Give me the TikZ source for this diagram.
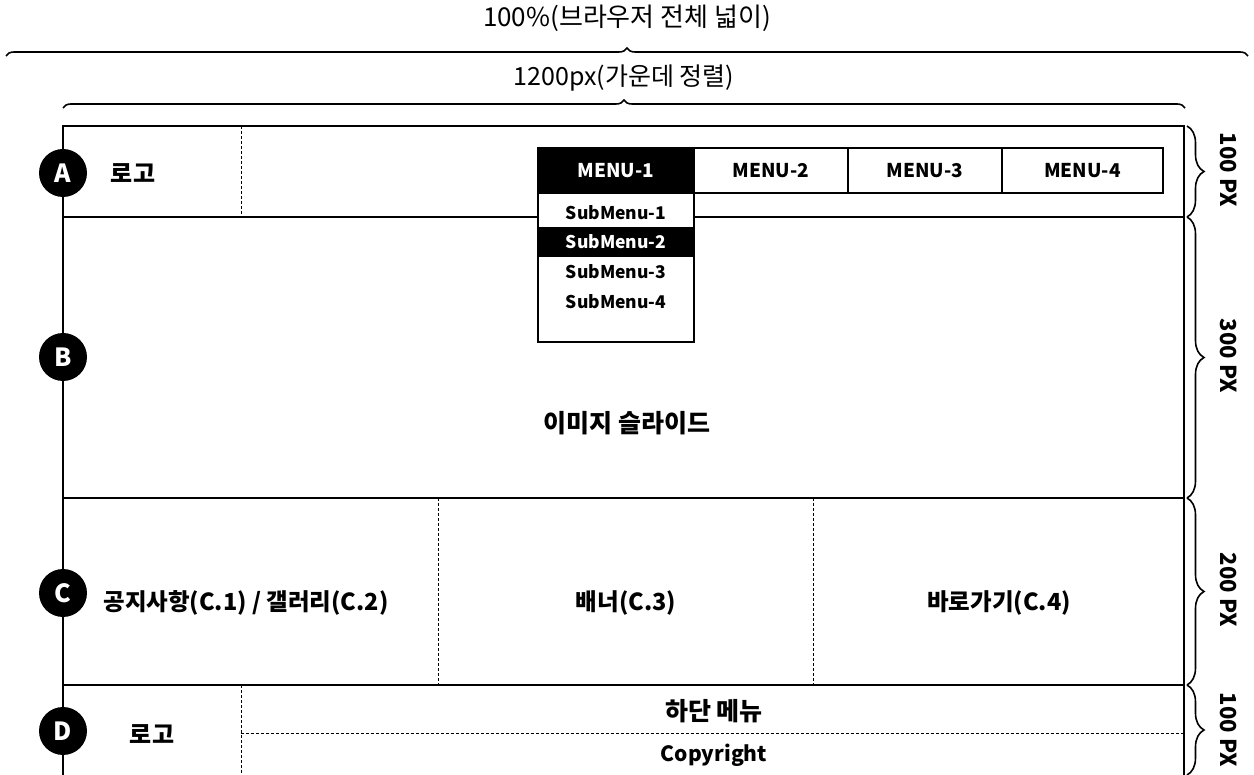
\documentclass[tikz,border=0pt]{standalone}
\usepackage{fontspec}
\setmainfont{Noto Sans CJK KR}
\usetikzlibrary{decorations.pathreplacing}
\begin{document}
\begin{tikzpicture}[x=1pt,y=-1pt,
  frame/.style={line width=1.5pt},
  dashln/.style={line width=1pt,dash pattern=on 3pt off 2pt},
  bracestyle/.style={line width=1.6pt,decorate,decoration={brace,amplitude=8pt,aspect=0.5}},
  vbrace/.style={line width=1.6pt,decorate,decoration={brace,amplitude=17pt,aspect=0.5}},
  badge/.style={circle,fill=black,minimum size=48pt,inner sep=0pt,text=white,font=\fontsize{25}{25}\selectfont\bfseries},
  menubox/.style={draw,line width=1.3pt,minimum height=45pt,inner sep=0pt,font=\fontsize{19}{19}\selectfont\bfseries},
  subitem/.style={font=\fontsize{17.5}{17.5}\selectfont\bfseries,inner sep=0pt},
  lbl/.style={font=\fontsize{25}{25}\selectfont\bfseries},
  logolbl/.style={font=\fontsize{24}{24}\selectfont\bfseries},
  clbl/.style={font=\fontsize{23.5}{23.5}\selectfont\bfseries},
  copylbl/.style={font=\fontsize{21}{21}\selectfont\bfseries},
  pxlbl/.style={rotate=-90,font=\fontsize{22}{22}\selectfont\bfseries}
]
\useasboundingbox (0,0) rectangle (1254,775);
\fill[white] (0,0) rectangle (1254,775);

% top annotations
\node[font=\fontsize{26}{26}\selectfont] (wtext) at (627,18) {100\%(브라우저 전체 넓이)};
\coordinate (wl) at (6,56);
\coordinate (wr) at (1248,56);
\draw[bracestyle] (wl) -- (wr);
\node[font=\fontsize{25}{25}\selectfont] (ctext) at (624,78) {1200px(가운데 정렬)};
\coordinate (cl) at (63,108);
\coordinate (cr) at (1185,108);
\draw[bracestyle] (cl) -- (cr);

% frame corners
\coordinate (tl) at (63,126);
\coordinate (tr) at (1184,126);
\coordinate (bl) at (63,775);
\coordinate (br) at (1184,775);
\coordinate (aL) at (63,217);
\coordinate (aR) at (1184,217);
\coordinate (bL) at (63,498);
\coordinate (bR) at (1184,498);
\coordinate (cL) at (63,685);
\coordinate (cR) at (1184,685);

\draw[frame] (bl) -- (tl) -- (tr) -- (br);
\draw[frame] (aL) -- (aR);
\draw[frame] (bL) -- (bR);
\draw[frame] (cL) -- (cR);

% dashed separators
\coordinate (d1t) at (241,126); \coordinate (d1b) at (241,217);
\draw[dashln] (d1t) -- (d1b);
\coordinate (d2t) at (438,498); \coordinate (d2b) at (438,685);
\draw[dashln] (d2t) -- (d2b);
\coordinate (d3t) at (813,498); \coordinate (d3b) at (813,685);
\draw[dashln] (d3t) -- (d3b);
\coordinate (d4t) at (241,685); \coordinate (d4b) at (241,775);
\draw[dashln] (d4t) -- (d4b);
\coordinate (d5l) at (241,733); \coordinate (d5r) at (1184,733);
\draw[dashln] (d5l) -- (d5r);

% header
\node[logolbl] (logoA) at (133,173) {로고};
\node[menubox,fill=black,text=white,minimum width=156pt] (m1) at (616,170.5) {MENU-1};
\node[menubox,minimum width=154pt] (m2) at (771,170.5) {MENU-2};
\node[menubox,minimum width=154pt] (m3) at (925,170.5) {MENU-3};
\node[menubox,minimum width=161pt] (m4) at (1082.5,170.5) {MENU-4};

% submenu
\node[draw,line width=1.3pt,fill=white,minimum width=156pt,minimum height=149pt,inner sep=0pt] (sub) at (616,267.5) {};
\node[fill=black,minimum width=154pt,minimum height=30pt,inner sep=0pt] (subhl) at (616,242) {};
\node[subitem] (s1) at (616,213) {SubMenu-1};
\node[subitem,text=white] (s2) at (616,242) {SubMenu-2};
\node[subitem] (s3) at (616,272) {SubMenu-3};
\node[subitem] (s4) at (616,302) {SubMenu-4};

% body
\node[lbl] (slide) at (627,423) {이미지 슬라이드};
\node[clbl] (c12) at (246,603) {공지사항(C.1) / 갤러리(C.2)};
\node[clbl] (c3) at (626,603) {배너(C.3)};
\node[clbl] (c4) at (999,603) {바로가기(C.4)};
\node[lbl] (fmenu) at (714,711) {하단 메뉴};
\node[copylbl] (copy) at (714,755) {Copyright};
\node[logolbl] (logoD) at (152,734) {로고};

% badges
\node[badge] (A) at (63,173) {A};
\node[badge] (B) at (63,357) {B};
\node[badge] (C) at (63,593) {C};
\node[badge] (D) at (63,731) {D};

% right braces
\coordinate (r0) at (1187,126);
\coordinate (r1) at (1187,217);
\coordinate (r2) at (1187,498);
\coordinate (r3) at (1187,685);
\coordinate (r4) at (1187,775);
\draw[vbrace] (r0) -- (r1);
\draw[vbrace] (r1) -- (r2);
\draw[vbrace] (r2) -- (r3);
\draw[vbrace] (r3) -- (r4);
\node[pxlbl] (pa) at (1229,170) {100 PX};
\node[pxlbl] (pb) at (1229,356) {300 PX};
\node[pxlbl] (pc) at (1229,590) {200 PX};
\node[pxlbl] (pd) at (1229,730) {100 PX};
\end{tikzpicture}
\end{document}
